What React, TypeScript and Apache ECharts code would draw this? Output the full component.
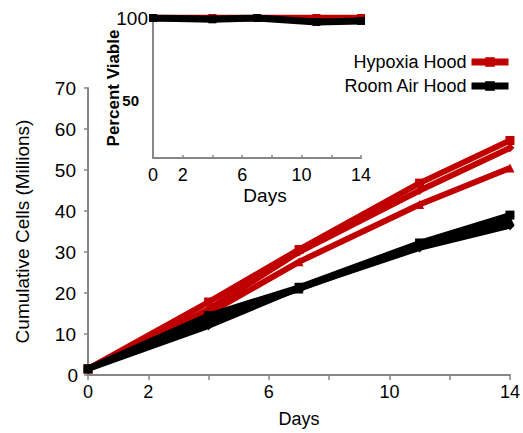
import React, { useEffect, useRef } from "react";
import * as echarts from "echarts";

const days = [0, 4, 7, 11, 14];
const hypoxiaA = [1.5, 17.8, 30.6, 46.8, 57.2];
const hypoxiaB = [1.5, 16.0, 30.0, 45.0, 55.4];
const hypoxiaC = [1.5, 15.0, 27.6, 41.6, 50.5];
const roomA = [1.5, 14.5, 21.4, 32.2, 39.0];
const roomB = [1.5, 13.5, 21.0, 31.6, 37.6];
const roomC = [1.5, 12.0, 21.2, 31.0, 36.4];
const viableHypoxia = [100, 100, 100, 100, 100];
const viableRoom = [100, 99.2, 100, 97.6, 98.2];
const shownDayLabels = [0, 2, 6, 10, 14];

const RED = "#C00000";
const BLACK = "#000000";
const AXIS = "#868686";
const FONT = "Liberation Sans";

const pts = (ys: number[]) => days.map((d, i) => [d, ys[i]]);

export default function App() {
  const ref = useRef<HTMLDivElement>(null);
  useEffect(() => {
    const chart = echarts.init(ref.current!, null, { renderer: "svg" });
    const mainSeries = (name: string, color: string, ys: number[], symbol: string) => ({
      name,
      type: "line",
      xAxisIndex: 0,
      yAxisIndex: 0,
      data: pts(ys),
      symbol,
      symbolSize: 9,
      lineStyle: { color, width: 6 },
      itemStyle: { color },
      z: color === BLACK ? 4 : 3,
    });
    const insetSeries = (name: string, color: string, ys: number[]) => ({
      name,
      type: "line",
      xAxisIndex: 1,
      yAxisIndex: 1,
      data: pts(ys),
      symbol: "rect",
      symbolSize: 8,
      lineStyle: { color, width: 7 },
      itemStyle: { color },
      z: color === BLACK ? 4 : 3,
    });
    const xLabel = (v: number) => (shownDayLabels.includes(v) ? String(v) : "");
    chart.setOption({
      animation: false,
      textStyle: { fontFamily: FONT },
      legend: {
        data: ["Hypoxia Hood", "Room Air Hood"],
        orient: "vertical",
        right: 6,
        top: 48,
        align: "right",
        itemWidth: 37,
        itemHeight: 12,
        itemGap: 6,
        lineStyle: { width: 7 },
        textStyle: { fontSize: 18, color: "#000", fontFamily: FONT },
      },
      grid: [
        { left: 88, right: 12, top: 88, bottom: 57 },
        { left: 153, right: 162, top: 18, bottom: 275 },
      ],
      xAxis: [
        {
          gridIndex: 0,
          type: "value",
          min: 0,
          max: 14,
          interval: 2,
          name: "Days",
          nameLocation: "middle",
          nameGap: 35,
          nameMoveOverlap: false,
          nameTextStyle: { fontSize: 18, color: "#000", fontFamily: FONT },
          axisLine: { lineStyle: { color: AXIS, width: 2 } },
          axisTick: { show: true, length: 5, lineStyle: { color: AXIS, width: 1.5 } },
          axisLabel: { fontSize: 18, color: "#000", formatter: xLabel, margin: 8 },
          splitLine: { show: false },
        },
        {
          gridIndex: 1,
          type: "value",
          min: 0,
          max: 14,
          interval: 2,
          name: "Days",
          nameLocation: "middle",
          nameGap: 28,
          nameMoveOverlap: false,
          nameTextStyle: { fontSize: 19, color: "#000", fontFamily: FONT, padding: [0, 0, 0, 16] },
          axisLine: { lineStyle: { color: AXIS, width: 2 } },
          axisTick: { show: true, inside: true, length: 3, lineStyle: { color: AXIS, width: 1.5 } },
          axisLabel: { fontSize: 18, color: "#000", formatter: xLabel, margin: 8 },
          splitLine: { show: false },
        },
      ],
      yAxis: [
        {
          gridIndex: 0,
          type: "value",
          min: 0,
          max: 70,
          interval: 10,
          name: "Cumulative Cells (Millions)",
          nameLocation: "middle",
          nameGap: 56,
          nameMoveOverlap: false,
          nameTextStyle: { fontSize: 19, color: "#000", fontFamily: FONT },
          axisLine: { show: true, lineStyle: { color: AXIS, width: 2 } },
          axisTick: { show: true, length: 4, lineStyle: { color: AXIS, width: 1.5 } },
          axisLabel: {
            fontSize: 19,
            color: "#000",
            margin: 10,
            formatter: (v: number) => (v === 0 ? "0" : "{p|" + v + "}"),
            rich: { p: { fontSize: 19, color: "#000", fontFamily: FONT, padding: [0, 2, 0, 0] } },
          },
          splitLine: { show: false },
        },
        {
          gridIndex: 1,
          type: "value",
          min: 15,
          max: 100,
          interval: 5,
          name: "Percent Viable",
          nameLocation: "middle",
          nameGap: 31,
          nameMoveOverlap: false,
          nameTextStyle: { fontSize: 17, fontWeight: "bold", color: "#000", fontFamily: FONT },
          axisLine: { show: true, lineStyle: { color: AXIS, width: 2 } },
          axisTick: { show: false },
          axisLabel: {
            margin: 5,
            fontSize: 19,
            color: "#000",
            formatter: (v: number) => (v === 100 ? "100" : v === 50 ? "{b|50}" : ""),
            rich: {
              b: { fontSize: 15, fontWeight: "bold", color: "#000", fontFamily: FONT, padding: [0, 9, 0, 0] },
            },
          },
          splitLine: { show: false },
        },
      ],
      series: [
        mainSeries("Hypoxia Hood", RED, hypoxiaA, "rect"),
        mainSeries("Hypoxia Hood", RED, hypoxiaB, "diamond"),
        mainSeries("Hypoxia Hood", RED, hypoxiaC, "triangle"),
        mainSeries("Room Air Hood", BLACK, roomA, "rect"),
        mainSeries("Room Air Hood", BLACK, roomB, "triangle"),
        mainSeries("Room Air Hood", BLACK, roomC, "diamond"),
        insetSeries("Hypoxia Hood", RED, viableHypoxia),
        insetSeries("Room Air Hood", BLACK, viableRoom),
      ],
    });
    return () => chart.dispose();
  }, []);
  return <div ref={ref} style={{ width: 523, height: 433, position: "absolute", left: 0, top: 0 }} />;
}
